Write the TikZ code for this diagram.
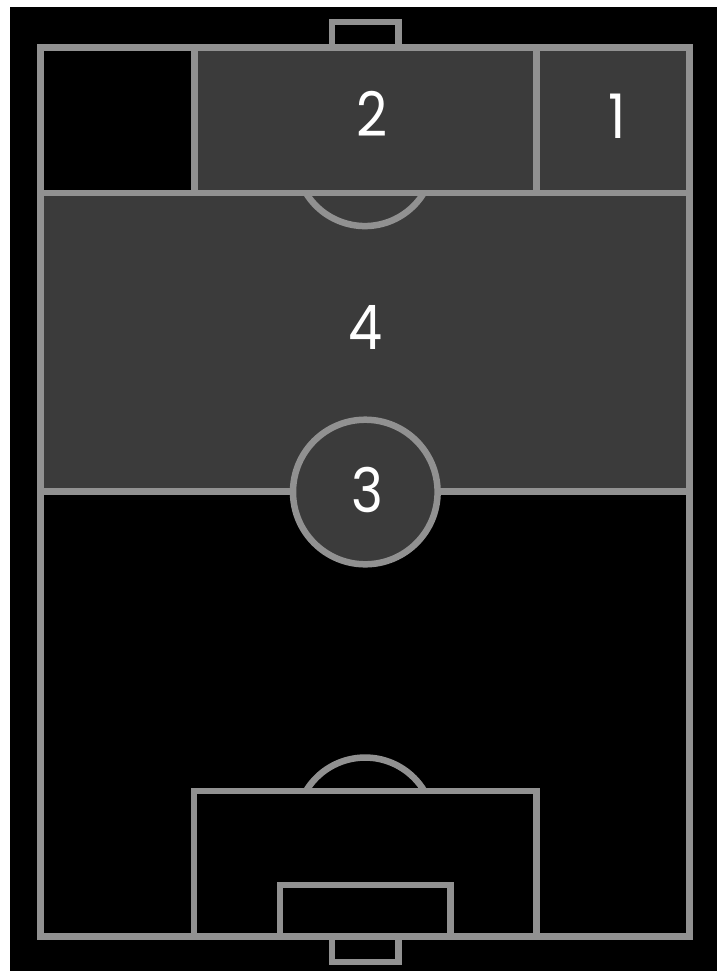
\documentclass[tikz,border=0pt]{standalone}
\usepackage{xcolor}
\usepackage{fontspec}
\setmainfont[FakeStretch=0.88]{Poppins}
\usepackage{tikz}
\definecolor{pitchgrey}{HTML}{919191}
\definecolor{zonegrey}{HTML}{3B3B3B}
\tikzset{
	pitchline/.style={draw=pitchgrey, line width=0.13cm, miter limit=10},
	zonelabel/.style={text=white, inner sep=0pt, font=\fontsize{35}{35}\selectfont},
}

\begin{document}
\begin{tikzpicture}[x=0.02cm, y=-0.02cm]
	\useasboundingbox (0,0) rectangle (717,971);
	\fill[white] (0,0) rectangle (717,971);
	\fill[black] (10,7) rectangle (717,971);

	\fill[zonegrey] (194,47.3) rectangle (689.5,193);
	\fill[zonegrey] (40.7,193) rectangle (689.5,491.7);

	\draw[pitchline] (40.7,47.3) rectangle (689.5,936.3);
	\draw[pitchline] (194.3,47.3) -- (194.3,193);
	\draw[pitchline] (536.7,47.3) -- (536.7,193);
	\draw[pitchline] (40.7,193) -- (689.5,193);
	\draw[pitchline] (40.7,491.7) -- (689.5,491.7);

	\draw[pitchline] (332,47.3) -- (332,22) -- (398.6,22) -- (398.6,47.3);
	\draw[pitchline] (332,936.3) -- (332,962) -- (398.6,962) -- (398.6,936.3);

	\draw[pitchline] (306,193) arc (148.6:31.4:69);
	\draw[pitchline] (306,791) arc (-149:-31:69);

	\draw[pitchline] (194.2,936.3) -- (194.2,791) -- (536.4,791) -- (536.4,936.3);
	\draw[pitchline] (279.8,936.3) -- (279.8,885) -- (450.7,885) -- (450.7,936.3);

	\draw[pitchline, fill=zonegrey] (365.3,492) circle (72.3);

	\node[zonelabel] (zone1) at (617,116.5) {1};
	\node[zonelabel] (zone2) at (372,114) {2};
	\node[zonelabel] (zone3) at (367,490) {3};
	\node[zonelabel] (zone4) at (365.5,327.5) {4};
\end{tikzpicture}
\end{document}
